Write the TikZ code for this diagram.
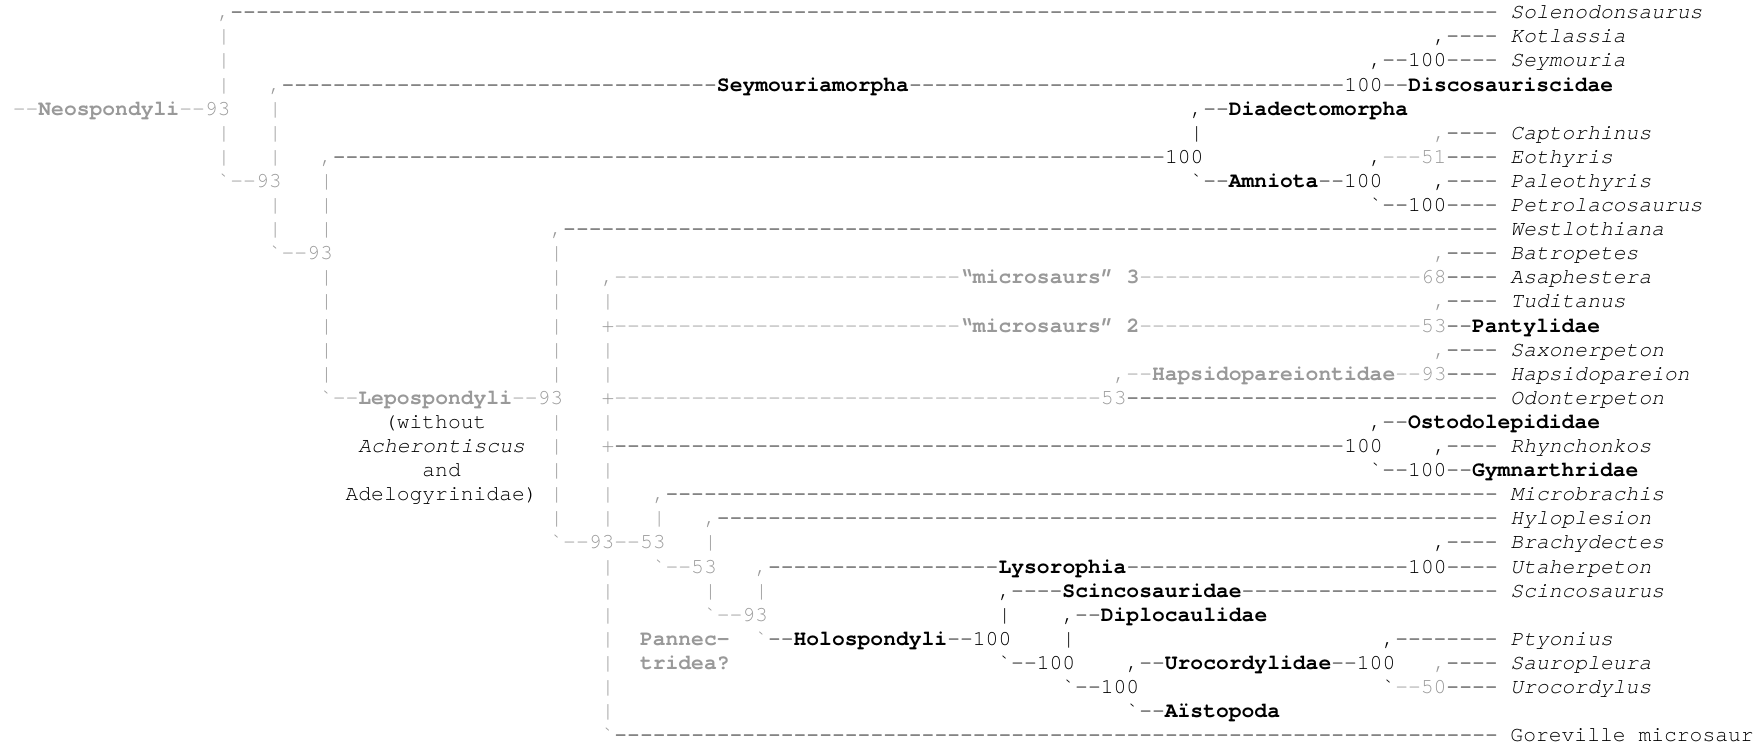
\documentclass[tikz,border=0pt]{standalone}
\usepackage{fontspec}
\setmonofont{texgyrecursor}[Extension=.otf, UprightFont=*-regular,
  BoldFont=*-bold, ItalicFont=*-italic, BoldItalicFont=*-bolditalic]
\usepackage{tikz}

\definecolor{lowsup}{HTML}{999999}

% a run of n hyphens
\newcount\dashcount
\newcommand\dashes[1]{\dashcount=#1\relax
  \loop\ifnum\dashcount>0 -\advance\dashcount by -1\relax\repeat}
\newcommand\clade[1]{\textbf{#1}}
\newcommand\genus[1]{\textit{#1}}

\tikzset{
  cell/.style={anchor=base west, inner sep=0pt, outer sep=0pt,
    font=\ttfamily\fontsize{10.67pt}{12pt}\selectfont},
  hi/.style={cell, text=black},
  lo/.style={cell, text=lowsup},
}

\begin{document}
\begin{tikzpicture}[x=6.4pt, y=-12.05pt]
  \useasboundingbox (0,-0.776) rectangle (137.34,30.344);

  % vertical bars
  \foreach \r in {1,2,3,5,6} \node[lo] (neo-\r) at (17,\r) {|};
  \foreach \r in {4,5,6,8,9} \node[lo] (rep-\r) at (21,\r) {|};
  \foreach \r in {7,8,9,11,12,...,15} \node[lo] (nsp-\r) at (25,\r) {|};
  \foreach \r in {10,11,...,15,17,18,...,21} \node[lo] (lep-\r) at (43,\r) {|};
  \foreach \r in {12,14,15,17,19,20,21,23,24,...,29} \node[lo] (mic-\r) at (47,\r) {|};
  \node[lo] (a-21) at (51,21) {|};
  \foreach \r in {22,24} \node[lo] (b-\r) at (55,\r) {|};
  \node[lo] (c-24) at (59,24) {|};
  \node[hi] (hol-25) at (78,25) {|};
  \node[hi] (d-26) at (83,26) {|};
  \node[hi] (amn-5) at (93,5) {|};

  % row 0--2
  \node[lo] (r0) at (17,0) {,};
  \node[hi] (r0b) at (18,0) {\dashes{99}};
  \node[hi] (solenodonsaurus) at (118,0) {\genus{Solenodonsaurus}};
  \node[hi] (r1) at (112,1) {,----};
  \node[hi] (kotlassia) at (118,1) {\genus{Kotlassia}};
  \node[hi] (r2) at (107,2) {,--100----};
  \node[hi] (seymouria) at (118,2) {\genus{Seymouria}};

  % Seymouriamorpha
  \node[lo] (r3) at (21,3) {,};
  \node[hi] (seymouriamorpha) at (22,3)
    {\dashes{34}\clade{Seymouriamorpha}\dashes{34}100--\clade{Discosauriscidae}};

  % Neospondyli and amniotes
  \node[lo] (neospondyli) at (1,4) {--\clade{Neospondyli}--93};
  \node[hi] (diadectomorpha) at (93,4) {,--\clade{Diadectomorpha}};
  \node[lo] (r5) at (112,5) {,};
  \node[hi] (r5b) at (113,5) {----};
  \node[hi] (captorhinus) at (118,5) {\genus{Captorhinus}};
  \node[lo] (r6) at (25,6) {,};
  \node[hi] (r6b) at (26,6) {\dashes{65}100};
  \node[hi] (r6c) at (107,6) {,};
  \node[lo] (r6d) at (108,6) {---51};
  \node[hi] (r6e) at (113,6) {----};
  \node[hi] (eothyris) at (118,6) {\genus{Eothyris}};
  \node[lo] (r7) at (17,7) {`--93};
  \node[hi] (amniota) at (93,7) {`--\clade{Amniota}--100};
  \node[hi] (r7b) at (112,7) {,----};
  \node[hi] (paleothyris) at (118,7) {\genus{Paleothyris}};
  \node[hi] (r8) at (107,8) {`--100----};
  \node[hi] (petrolacosaurus) at (118,8) {\genus{Petrolacosaurus}};
  \node[lo] (r9) at (43,9) {,};
  \node[hi] (r9b) at (44,9) {\dashes{73}};
  \node[hi] (westlothiana) at (118,9) {\genus{Westlothiana}};
  \node[lo] (r10) at (21,10) {`--93};
  \node[lo] (r10b) at (112,10) {,};
  \node[hi] (r10c) at (113,10) {----};
  \node[hi] (batropetes) at (118,10) {\genus{Batropetes}};

  % "microsaurs"
  \node[lo] (micro3) at (47,11) {,\dashes{27}\clade{“microsaurs” 3}\dashes{22}68};
  \node[hi] (r11) at (113,11) {----};
  \node[hi] (asaphestera) at (118,11) {\genus{Asaphestera}};
  \node[lo] (r12) at (112,12) {,};
  \node[hi] (r12b) at (113,12) {----};
  \node[hi] (tuditanus) at (118,12) {\genus{Tuditanus}};
  \node[lo] (micro2) at (47,13) {+\dashes{27}\clade{“microsaurs” 2}\dashes{22}53};
  \node[hi] (pantylidae) at (113,13) {--\clade{Pantylidae}};
  \node[lo] (r14) at (112,14) {,};
  \node[hi] (r14b) at (113,14) {----};
  \node[hi] (saxonerpeton) at (118,14) {\genus{Saxonerpeton}};
  \node[lo] (hapsidopareiontidae) at (87,15) {,--\clade{Hapsidopareiontidae}--93};
  \node[hi] (r15) at (113,15) {----};
  \node[hi] (hapsidopareion) at (118,15) {\genus{Hapsidopareion}};
  \node[lo] (lepospondyli) at (25,16) {`--\clade{Lepospondyli}--93};
  \node[lo] (r16) at (47,16) {+\dashes{38}53};
  \node[hi] (r16b) at (88,16) {\dashes{29}};
  \node[hi] (odonterpeton) at (118,16) {\genus{Odonterpeton}};

  % note under Lepospondyli
  \node[hi] (note1) at (30,17) {(without};
  \node[hi] (note2) at (28,18) {\genus{Acherontiscus}};
  \node[hi] (note3) at (33,19) {and};
  \node[hi] (note4) at (27,20) {Adelogyrinidae)};

  % Gymnarthridae and kin
  \node[hi] (ostodolepididae) at (107,17) {,--\clade{Ostodolepididae}};
  \node[lo] (r18) at (47,18) {+};
  \node[hi] (r18b) at (48,18) {\dashes{57}100};
  \node[hi] (r18c) at (112,18) {,----};
  \node[hi] (rhynchonkos) at (118,18) {\genus{Rhynchonkos}};
  \node[hi] (gymnarthridae) at (107,19) {`--100--\clade{Gymnarthridae}};

  % Microbrachis to Holospondyli
  \node[lo] (r20) at (51,20) {,};
  \node[hi] (r20b) at (52,20) {\dashes{65}};
  \node[hi] (microbrachis) at (118,20) {\genus{Microbrachis}};
  \node[lo] (r21) at (55,21) {,};
  \node[hi] (r21b) at (56,21) {\dashes{61}};
  \node[hi] (hyloplesion) at (118,21) {\genus{Hyloplesion}};
  \node[lo] (r22) at (43,22) {`--93--53};
  \node[hi] (r22b) at (112,22) {,----};
  \node[hi] (brachydectes) at (118,22) {\genus{Brachydectes}};
  \node[lo] (r23) at (51,23) {`--53};
  \node[lo] (r23b) at (59,23) {,};
  \node[hi] (lysorophia) at (60,23) {\dashes{18}\clade{Lysorophia}\dashes{22}100----};
  \node[hi] (utaherpeton) at (118,23) {\genus{Utaherpeton}};
  \node[hi] (scincosauridae) at (78,24) {,----\clade{Scincosauridae}\dashes{20}};
  \node[hi] (scincosaurus) at (118,24) {\genus{Scincosaurus}};
  \node[lo] (r25) at (55,25) {`--93};
  \node[hi] (diplocaulidae) at (83,25) {,--\clade{Diplocaulidae}};
  \node[lo] (pannec) at (50,26) {\clade{Pannec-}};
  \node[lo] (r26) at (59,26) {`};
  \node[hi] (holospondyli) at (60,26) {--\clade{Holospondyli}--100};
  \node[hi] (r26b) at (108,26) {,\dashes{8}};
  \node[hi] (ptyonius) at (118,26) {\genus{Ptyonius}};
  \node[lo] (tridea) at (50,27) {\clade{tridea?}};
  \node[hi] (r27) at (78,27) {`--100};
  \node[hi] (urocordylidae) at (88,27) {,--\clade{Urocordylidae}--100};
  \node[lo] (r27b) at (112,27) {,};
  \node[hi] (r27c) at (113,27) {----};
  \node[hi] (sauropleura) at (118,27) {\genus{Sauropleura}};
  \node[hi] (r28) at (83,28) {`--100};
  \node[hi] (r28b) at (108,28) {`};
  \node[lo] (r28c) at (109,28) {--50};
  \node[hi] (r28d) at (113,28) {----};
  \node[hi] (urocordylus) at (118,28) {\genus{Urocordylus}};
  \node[hi] (aistopoda) at (88,29) {`--\clade{Aïstopoda}};

  % Goreville
  \node[lo] (r30) at (47,30) {`};
  \node[hi] (r30b) at (48,30) {\dashes{69}};
  \node[hi] (goreville) at (118,30) {Goreville microsaur};
\end{tikzpicture}
\end{document}
